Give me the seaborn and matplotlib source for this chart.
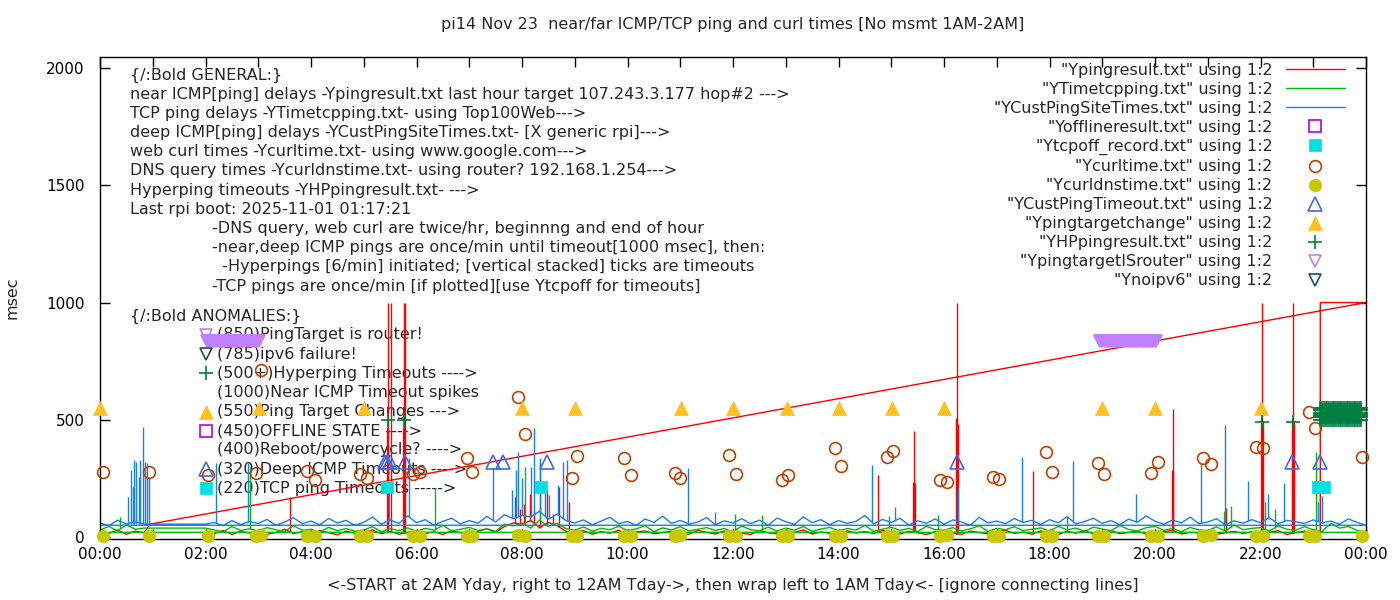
import numpy as np
import pandas as pd
import matplotlib
matplotlib.use("Agg")
import matplotlib.pyplot as plt
import matplotlib.dates as mdates
from matplotlib.lines import Line2D
import seaborn as sns

DAY = pd.Timestamp("2025-11-23")
FS = 11.5      # text
FS_TICK = 11

# ── Data (times "HH:MM", values in msec) ─────────────────────────────────────
# near ICMP ping (red) – 10-minute readings 02:00 .. 23:00
red_main = [
    20, 14, 28, 11, 24, 17,   # 02
    26, 12, 19, 33, 15, 22,   # 03
    13, 27, 18, 10, 25, 16,   # 04
    21, 30, 14, 24, 12, 19,   # 05
    28, 15, 22, 11, 26, 18,   # 06
    14, 24, 35, 20, 45, 60,   # 07
    55, 70, 40, 62, 48, 25,   # 08
    18, 27, 12, 23, 16, 29,   # 09
    11, 21, 26, 14, 19, 24,   # 10
    17, 12, 28, 20, 13, 25,   # 11
    22, 16, 11, 27, 18, 14,   # 12
    25, 19, 30, 13, 21, 16,   # 13
    12, 26, 17, 23, 15, 28,   # 14
    20, 13, 24, 18, 11, 22,   # 15
    27, 16, 12, 25, 19, 14,   # 16
    23, 29, 15, 21, 12, 26,   # 17
    18, 11, 24, 16, 28, 13,   # 18
    21, 27, 14, 19, 25, 12,   # 19
    16, 23, 28, 13, 20, 17,   # 20
    26, 12, 18, 24, 15, 22,   # 21
    14, 20, 27, 11, 19, 25,   # 22
    18,                       # 23:00
]
red_tail_t = ["23:08", "23:08", "24:00", "00:57", "00:50", "00:40",
              "00:30", "00:20", "00:10", "00:00"]
red_tail_v = [18, 1000, 1000, 55, 18, 25, 12, 30, 15, 22]
red_spike_t = ["03:36", "05:27", "05:28", "05:31", "05:45", "05:46", "05:47",
               "07:52", "07:58", "08:02", "08:09", "08:14", "08:20", "08:28",
               "08:35", "08:42", "08:53", "14:45", "15:25", "15:26", "15:27",
               "16:14", "16:15", "16:16", "17:41", "20:19", "20:20", "20:21",
               "21:21", "22:01", "22:02", "22:03", "22:36", "22:37", "22:38"]
red_spike_v = [170, 470, 1000, 1000, 470, 1000, 1000,
               170, 120, 140, 183, 110, 130, 200,
               100, 213, 150, 264, 234, 452, 230,
               507, 1000, 480, 281, 285, 545, 280,
               124, 507, 1000, 490, 507, 1000, 495]

# TCP ping (green) – 00:00 .. 00:50, then 02:00 .. 24:00
green_head_t = ["00:00", "00:10", "00:20", "00:30", "00:40", "00:50"]
green_head_v = [30, 45, 26, 52, 33, 38]
green_main = [
    38, 30, 22, 45, 28, 35,   # 02
    26, 40, 31, 24, 48, 29,   # 03
    33, 22, 41, 27, 36, 25,   # 04
    30, 44, 23, 35, 28, 39,   # 05
    24, 37, 29, 50, 26, 33,   # 06
    41, 28, 35, 24, 55, 47,   # 07
    60, 38, 72, 45, 58, 36,   # 08
    29, 43, 25, 37, 31, 46,   # 09
    27, 35, 48, 23, 39, 30,   # 10
    44, 26, 33, 40, 28, 36,   # 11
    23, 47, 31, 27, 42, 25,   # 12
    38, 29, 45, 24, 34, 41,   # 13
    26, 36, 30, 49, 25, 33,   # 14
    42, 28, 37, 23, 46, 31,   # 15
    29, 40, 26, 35, 48, 24,   # 16
    37, 31, 44, 27, 33, 39,   # 17
    25, 46, 30, 38, 24, 42,   # 18
    34, 27, 49, 32, 26, 40,   # 19
    45, 29, 36, 23, 41, 30,   # 20
    28, 43, 25, 52, 31, 37,   # 21
    40, 26, 47, 33, 29, 44,   # 22
    31, 24, 58, 38, 45, 28,   # 23
    20,                       # 24:00
]
green_tail_t = ["00:00"]
green_tail_v = [20]
green_spike_t = ["00:23", "02:51", "06:21", "08:03", "08:20", "12:02", "12:33",
                 "14:58", "15:53", "18:20", "21:18", "21:27", "22:05", "22:16",
                 "23:03"]
green_spike_v = [85, 300, 209, 300, 320, 100, 95,
                 90, 95, 90, 110, 132, 149, 120,
                 362]

# deep ICMP ping (blue) – 00:00 .. 00:50, then 02:00 .. 24:00
blue_head_t = ["00:00", "00:10", "00:20", "00:30", "00:40", "00:50"]
blue_head_v = [60, 48, 72, 55, 65, 55]
blue_main = [
    55, 62, 48, 70, 53, 66,   # 02
    58, 75, 50, 64, 82, 57,   # 03
    68, 52, 79, 60, 71, 49,   # 04
    63, 85, 55, 72, 58, 90,   # 05
    61, 74, 50, 67, 80, 56,   # 06
    70, 59, 88, 64, 95, 78,   # 07
    92, 85, 110, 76, 98, 70,  # 08
    60, 73, 52, 68, 84, 57,   # 09
    66, 50, 77, 62, 89, 58,   # 10
    71, 55, 64, 83, 52, 69,   # 11
    60, 78, 57, 72, 50, 81,   # 12
    65, 54, 86, 61, 74, 53,   # 13
    70, 58, 67, 92, 56, 75,   # 14
    62, 80, 51, 69, 59, 77,   # 15
    55, 73, 64, 50, 84, 60,   # 16
    68, 57, 79, 62, 71, 54,   # 17
    74, 61, 87, 56, 66, 80,   # 18
    58, 70, 53, 76, 63, 90,   # 19
    67, 55, 72, 60, 85, 57,   # 20
    64, 78, 52, 69, 59, 74,   # 21
    61, 83, 56, 71, 65, 58,   # 22
    73, 60, 68, 55, 77, 62,   # 23
    50,                       # 24:00
]
blue_tail_t = ["00:00"]
blue_tail_v = [50]
blue_spike_t = ["00:32", "00:35", "00:37", "00:39", "00:41", "00:44", "00:46",
                "00:49", "00:51", "00:54", "00:56", "02:12", "02:48", "05:29",
                "05:51", "07:27", "07:49", "07:53", "07:56", "08:00", "08:10",
                "08:14", "08:20", "08:26", "08:31", "08:41", "08:47", "08:51",
                "11:09", "11:40", "14:38", "15:04", "16:16", "17:29", "18:27",
                "19:38", "20:52", "21:20", "21:46", "22:08", "22:27", "23:05",
                "23:10"]
blue_spike_v = [172, 286, 214, 328, 321, 257, 328,
                470, 321, 314, 257, 315, 315, 200,
                337, 294, 200, 285, 362, 250, 300,
                465, 337, 213, 180, 222, 320, 328,
                294, 107, 307, 128, 209, 341, 324,
                183, 315, 477, 239, 183, 230, 150,
                175]

# web curl / DNS query (twice an hour)
curl_t = ["00:03", "00:56", "02:03", "02:58", "03:03", "03:55", "04:04", "04:56",
          "05:04", "05:56", "06:04", "06:58", "07:03", "07:55", "08:03", "08:57",
          "09:03", "09:56", "10:04", "10:54", "11:00", "11:55", "12:03", "12:56",
          "13:03", "13:56", "14:03", "14:55", "15:02", "15:55", "16:03", "16:56",
          "17:03", "17:56", "18:03", "18:55", "19:02", "19:56", "20:03", "20:55",
          "21:04", "21:55", "22:03", "22:55", "23:02", "23:55"]
curl_v = [277, 277, 264, 273, 712, 281, 243, 269, 252, 269, 277, 337, 277, 597,
          439, 252, 345, 337, 264, 273, 252, 350, 269, 243, 264, 380, 303, 341,
          367, 243, 235, 256, 247, 362, 277, 316, 269, 273, 320, 337, 311, 384,
          380, 533, 465, 341]
dns_v = [4, 6, 3, 5, 7, 4, 6, 3, 5, 4, 6, 5, 3, 7, 4, 5, 6, 3, 4, 5, 7, 4, 6,
         3, 5, 4, 6, 5, 3, 4, 7, 5, 4, 6, 3, 5, 4, 6, 5, 3, 7, 4, 5, 6, 4, 5]

# events
target_change_t = ["00:00", "03:01", "05:00", "08:00", "09:00", "11:01", "12:00",
                   "13:01", "14:00", "15:01", "16:00", "19:00", "20:00", "22:00"]
target_change_v = [550] * len(target_change_t)
cust_timeout_t = ["05:24", "05:27", "05:30", "05:47", "07:27", "07:38", "08:28",
                  "16:15", "22:36", "23:08"]
cust_timeout_v = [320] * len(cust_timeout_t)
tcpoff_t = ["05:27", "08:22", "23:05", "23:12"]
tcpoff_v = [215, 215, 215, 215]
hp_t = ["05:28", "05:46", "22:02", "22:37"]
hp_v = [500, 500, 490, 490]
hp_block = ("23:08", "23:54")            # stacked hyperping timeouts, every 2 min
hp_levels = [500, 510, 520, 530, 540, 550]
router_bands = [("02:02", "03:01"), ("18:57", "20:01")]
router_v = 835

# ── Styles ───────────────────────────────────────────────────────────────────
RED, GREEN, BLUE = "#ff0000", "#00c000", "#1a7ff0"
STYLE = {
    "offline": dict(marker="s", markersize=8, markerfacecolor="none",
                    markeredgecolor="#b000f0", markeredgewidth=1.2),
    "tcpoff": dict(marker="s", markersize=9, markerfacecolor="#00e0e0",
                   markeredgecolor="#00e0e0", markeredgewidth=0.5),
    "curl": dict(marker="o", markersize=8.5, markerfacecolor="none",
                 markeredgecolor="#c04000", markeredgewidth=1.2),
    "dns": dict(marker="o", markersize=9, markerfacecolor="#c8c800",
                markeredgecolor="#c8c800", markeredgewidth=0.5),
    "custto": dict(marker="^", markersize=10, markerfacecolor="none",
                   markeredgecolor="#4169e1", markeredgewidth=1.2),
    "tchange": dict(marker="^", markersize=10, markerfacecolor="#ffc020",
                    markeredgecolor="#ffc020", markeredgewidth=0.5),
    "hp": dict(marker="+", markersize=9.5, markerfacecolor="none",
               markeredgecolor="#008040", markeredgewidth=1.2),
    "router": dict(marker="v", markersize=9, markerfacecolor="none",
                   markeredgecolor="#c080ff", markeredgewidth=1.2),
    "noipv6": dict(marker="v", markersize=9, markerfacecolor="none",
                   markeredgecolor="#204a6a", markeredgewidth=1.2),
}


def at(s):
    h, m = map(int, s.split(":"))
    return DAY + pd.Timedelta(hours=h, minutes=m)


def ats(lst):
    return pd.DatetimeIndex([at(s) for s in lst])


def trace(head_t, head_v, main_v, tail_t, tail_v):
    main_t = pd.date_range(at("02:00"), periods=len(main_v), freq="10min")
    t = list(ats(head_t)) + list(main_t) + list(ats(tail_t))
    v = list(head_v) + list(main_v) + list(tail_v)
    return pd.DataFrame({"t": t, "v": v}), main_t


def draw_trace(ax, df, main_t, main_v, spike_t, spike_v, color, z):
    sns.lineplot(data=df, x="t", y="v", sort=False, estimator=None,
                 errorbar=None, color=color, lw=1, ax=ax, zorder=z)
    st = ats(spike_t)
    foot = np.interp(mdates.date2num(st), mdates.date2num(main_t), main_v)
    ax.vlines(st, foot, spike_v, colors=color, lw=1, zorder=z)


def draw_marks(ax, t, v, style, z=5, **extra):
    kw = dict(style)
    kw.update(extra)
    sns.lineplot(x=t, y=v, sort=False, estimator=None, errorbar=None,
                 linestyle="none", clip_on=False, ax=ax, zorder=z, **kw)


# pixel helpers for text placement (axes box: x 100..1366, y 57..539)
def axx(px):
    return (px - 100) / 1266


def axy(py):
    return (539 - py) / 482


# ── Figure ───────────────────────────────────────────────────────────────────
sns.set_style("ticks")
plt.rcParams["font.family"] = ["DejaVu Sans"]

fig = plt.figure(figsize=(14, 6), dpi=100)
ax = fig.add_axes([100 / 1400, 61 / 600, 1266 / 1400, 482 / 600])

red_df, red_mt = trace([], [], red_main, red_tail_t, red_tail_v)
green_df, green_mt = trace(green_head_t, green_head_v, green_main,
                           green_tail_t, green_tail_v)
blue_df, blue_mt = trace(blue_head_t, blue_head_v, blue_main,
                         blue_tail_t, blue_tail_v)

draw_trace(ax, red_df, red_mt, red_main, red_spike_t, red_spike_v, RED, 2)
draw_trace(ax, green_df, green_mt, green_main, green_spike_t, green_spike_v, GREEN, 2.1)
draw_trace(ax, blue_df, blue_mt, blue_main, blue_spike_t, blue_spike_v, BLUE, 2.2)

draw_marks(ax, ats(tcpoff_t), tcpoff_v, STYLE["tcpoff"])
draw_marks(ax, ats(curl_t), curl_v, STYLE["curl"])
draw_marks(ax, ats(curl_t), dns_v, STYLE["dns"])
draw_marks(ax, ats(cust_timeout_t), cust_timeout_v, STYLE["custto"])
draw_marks(ax, ats(target_change_t), target_change_v, STYLE["tchange"])
draw_marks(ax, ats(hp_t), hp_v, STYLE["hp"])

block_t = pd.date_range(at(hp_block[0]), at(hp_block[1]), freq="2min")
bt = [t for t in block_t for _ in hp_levels]
bv = [lv for _ in block_t for lv in hp_levels]
draw_marks(ax, pd.DatetimeIndex(bt), bv, STYLE["hp"])

for a, b in router_bands:
    rt = pd.date_range(at(a), at(b), freq="1min")
    draw_marks(ax, rt, [router_v] * len(rt), STYLE["router"],
               markerfacecolor="#c080ff")

# axes
ax.set_xlim(at("00:00"), at("24:00"))
ax.set_ylim(-8.5, 2047)
ax.set_yticks([0, 500, 1000, 1500, 2000])
ax.xaxis.set_major_locator(mdates.HourLocator(byhour=range(0, 24, 2)))
ax.xaxis.set_minor_locator(mdates.HourLocator())
ax.xaxis.set_major_formatter(mdates.DateFormatter("%H:%M"))
ax.tick_params(which="both", direction="in", length=7, width=1,
               top=True, right=True, labelsize=FS_TICK, colors="black")
ax.tick_params(axis="x", which="major", pad=6)
ax.tick_params(axis="y", which="major", pad=11)
for sp in ax.spines.values():
    sp.set_color("black")
    sp.set_linewidth(1)
ax.set_xlabel("<-START at 2AM Yday, right to 12AM Tday->, then wrap left to "
              "1AM Tday<- [ignore connecting lines]", fontsize=FS, labelpad=11)
ax.set_ylabel("msec", fontsize=FS, labelpad=19)
fig.text(733 / 1400, 1 - 25 / 600,
         "pi14 Nov 23  near/far ICMP/TCP ping and curl times [No msmt 1AM-2AM]",
         ha="center", va="center", fontsize=FS)

# legend (gnuplot style: text right, key sample at the right)
labels = ['"Ypingresult.txt" using 1:2', '"YTimetcpping.txt" using 1:2',
          '"YCustPingSiteTimes.txt" using 1:2', '"Yofflineresult.txt" using 1:2',
          '"Ytcpoff_record.txt" using 1:2', '"Ycurltime.txt" using 1:2',
          '"Ycurldnstime.txt" using 1:2', '"YCustPingTimeout.txt" using 1:2',
          '"Ypingtargetchange" using 1:2', '"YHPpingresult.txt" using 1:2',
          '"YpingtargetISrouter" using 1:2', '"Ynoipv6" using 1:2']
handles = [Line2D([], [], color=c, lw=1) for c in (RED, GREEN, BLUE)]
handles += [Line2D([], [], linestyle="none", **STYLE[k])
            for k in ("offline", "tcpoff", "curl", "dns", "custto",
                      "tchange", "hp", "router", "noipv6")]
ax.legend(handles, labels, loc="upper right", bbox_to_anchor=(axx(1345), axy(63)),
          frameon=False, markerfirst=False, fontsize=FS, handlelength=3.7,
          handletextpad=0.85, labelspacing=0.25, borderpad=0, borderaxespad=0)

# annotation block
general = [
    (130, "{/:Bold GENERAL:}"),
    (130, "near ICMP[ping] delays -Ypingresult.txt last hour target 107.243.3.177 hop#2 --->"),
    (130, "TCP ping delays -YTimetcpping.txt- using Top100Web--->"),
    (130, "deep ICMP[ping] delays -YCustPingSiteTimes.txt- [X generic rpi]--->"),
    (130, "web curl times -Ycurltime.txt- using www.google.com--->"),
    (130, "DNS query times -Ycurldnstime.txt- using router? 192.168.1.254--->"),
    (130, "Hyperping timeouts -YHPpingresult.txt- --->"),
    (130, "Last rpi boot: 2025-11-01 01:17:21"),
    (212, "-DNS query, web curl are twice/hr, beginnng and end of hour"),
    (212, "-near,deep ICMP pings are once/min until timeout[1000 msec], then:"),
    (212, "  -Hyperpings [6/min] initiated; [vertical stacked] ticks are timeouts"),
    (212, "-TCP pings are once/min [if plotted][use Ytcpoff for timeouts]"),
]
for i, (px, s) in enumerate(general):
    ax.text(axx(px), axy(75 + i * 19.2), s, transform=ax.transAxes,
            ha="left", va="center", fontsize=FS, zorder=1)
ax.text(axx(130), axy(316), "{/:Bold ANOMALIES:}", transform=ax.transAxes,
        ha="left", va="center", fontsize=FS, zorder=1)

anomalies = [
    ("router", "(850)PingTarget is router!"),
    ("noipv6", "(785)ipv6 failure!"),
    ("hp", "(500+)Hyperping Timeouts ---->"),
    (None, "(1000)Near ICMP Timeout spikes"),
    ("tchange", "(550)Ping Target Changes --->"),
    ("offline", "(450)OFFLINE STATE ---->"),
    (None, "(400)Reboot/powercycle? ---->"),
    ("custto", "(320)Deep ICMP Timeouts ---->"),
    ("tcpoff", "(220)TCP ping Timeouts ----->"),
]
for j, (key, s) in enumerate(anomalies):
    yy = axy(335 + j * 19.15)
    ax.text(axx(217), yy, s, transform=ax.transAxes, ha="left", va="center",
            fontsize=FS, zorder=1)
    if key:
        ax.add_line(Line2D([axx(206)], [yy], transform=ax.transAxes,
                           linestyle="none", clip_on=False, zorder=5,
                           **STYLE[key]))

fig.savefig("out.png", dpi=100)
